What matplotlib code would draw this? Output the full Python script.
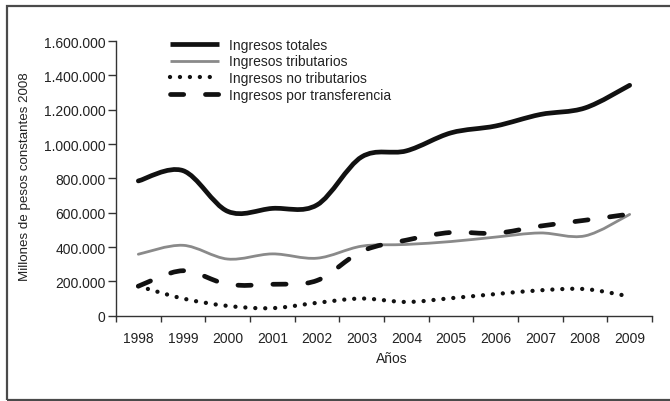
import numpy as np
import matplotlib
matplotlib.use('Agg')
import matplotlib.pyplot as plt
from matplotlib.path import Path
from matplotlib.patches import PathPatch, Rectangle
from matplotlib.lines import Line2D
from matplotlib.ticker import FuncFormatter

plt.rcParams['font.family'] = ['Liberation Sans', 'DejaVu Sans']

YEARS = ["1998", "1999", "2000", "2001", "2002", "2003",
         "2004", "2005", "2006", "2007", "2008", "2009"]
totales = [785000, 845000, 608000, 625000, 645000, 925000,
           960000, 1065000, 1105000, 1172000, 1210000, 1342000]
tributarios = [358000, 410000, 330000, 360000, 335000, 405000,
               415000, 432000, 458000, 482000, 465000, 590000]
no_tributarios = [172000, 100000, 57000, 44000, 75000, 100000,
                  80000, 102000, 126000, 148000, 155000, 112000]
transferencia = [172000, 262000, 183000, 183000, 205000, 375000,
                 440000, 485000, 480000, 522000, 556000, 592000]

TEXT = "#222222"
AXIS = "#333333"
FS = 10


def smooth_path(xs, ys):
    # bezier segments, excel-like smoothed line
    pts = np.column_stack([xs, ys]).astype(float)
    n = len(pts)
    verts = [pts[0]]
    codes = [Path.MOVETO]
    for i in range(n - 1):
        p0 = pts[i - 1] if i > 0 else pts[i]
        p1 = pts[i]
        p2 = pts[i + 1]
        p3 = pts[i + 2] if i + 2 < n else pts[i + 1]
        c1 = p1 + (p2 - p0) / 6.0
        c2 = p2 - (p3 - p1) / 6.0
        verts += [c1, c2, p2]
        codes += [Path.CURVE4] * 3
    return Path(verts, codes)


fig = plt.figure(figsize=(6.7, 4.02), dpi=100)
ax = fig.add_axes([116 / 670, 1 - 316.7 / 402, (652 - 116) / 670, (316.7 - 42) / 402])

x = np.arange(len(YEARS))
series = [
    (totales, dict(color="#111111", lw=3.4, ls="-")),
    (tributarios, dict(color="#8a8a8a", lw=2.0, ls="-")),
    (no_tributarios, dict(color="#111111", lw=3.1, ls=(0, (0.01, 2.3)))),
    (transferencia, dict(color="#111111", lw=3.4, ls=(0, (2.8, 4.6)))),
]
labels = ["Ingresos totales", "Ingresos tributarios",
          "Ingresos no tributarios", "Ingresos por transferencia"]

handles = []
for vals, st in series:
    patch = PathPatch(smooth_path(x, vals), facecolor="none", edgecolor=st["color"],
                      lw=st["lw"], ls=st["ls"], capstyle="round", joinstyle="round")
    ax.add_patch(patch)
    h = Line2D([], [], color=st["color"], lw=st["lw"], ls=st["ls"])
    h.set_dash_capstyle("round")
    h.set_solid_capstyle("butt")
    handles.append(h)

ax.set_xlim(-0.5, len(YEARS) - 0.5)
ax.set_ylim(0, 1600000)
ax.set_yticks(np.arange(0, 1600001, 200000))
ax.yaxis.set_major_formatter(FuncFormatter(lambda v, p: f"{int(v):,}".replace(",", ".")))
ax.set_xticks(np.arange(-0.5, len(YEARS), 1.0))
ax.set_xticklabels([])
ax.set_xticks(x, minor=True)
ax.set_xticklabels(YEARS, minor=True)

for s in ["top", "right"]:
    ax.spines[s].set_visible(False)
for s in ["left", "bottom"]:
    ax.spines[s].set_color(AXIS)
    ax.spines[s].set_linewidth(1.0)

ax.tick_params(axis="y", which="major", length=6, width=1.0, color=AXIS,
               labelsize=FS, labelcolor=TEXT, pad=1.5)
ax.tick_params(axis="x", which="major", length=4, width=1.0, color=AXIS)
ax.tick_params(axis="x", which="minor", length=0, labelsize=FS, labelcolor=TEXT, pad=11)

fig.text(25.5 / 670, 1 - 177 / 402, "Millones de pesos constantes 2008", rotation=90,
         ha="center", va="center", fontsize=9.6, color=TEXT)
fig.text(392 / 670, 1 - 359 / 402, "Años", ha="center", va="center", fontsize=FS, color=TEXT)

leg = ax.legend(handles, labels, loc="upper left", bbox_to_anchor=(0.1007, 1.012),
                frameon=False, fontsize=FS, handlelength=3.5, handletextpad=0.72,
                labelspacing=0.2, borderpad=0, borderaxespad=0, labelcolor=TEXT)

# outer frame
fig.patches.append(Rectangle((7 / 670, 1 - 400.5 / 402), 1.0, (400.5 - 7) / 402,
                             transform=fig.transFigure, fill=False,
                             edgecolor="#4a4a4a", lw=1.6))

fig.savefig("out.png", dpi=100)
